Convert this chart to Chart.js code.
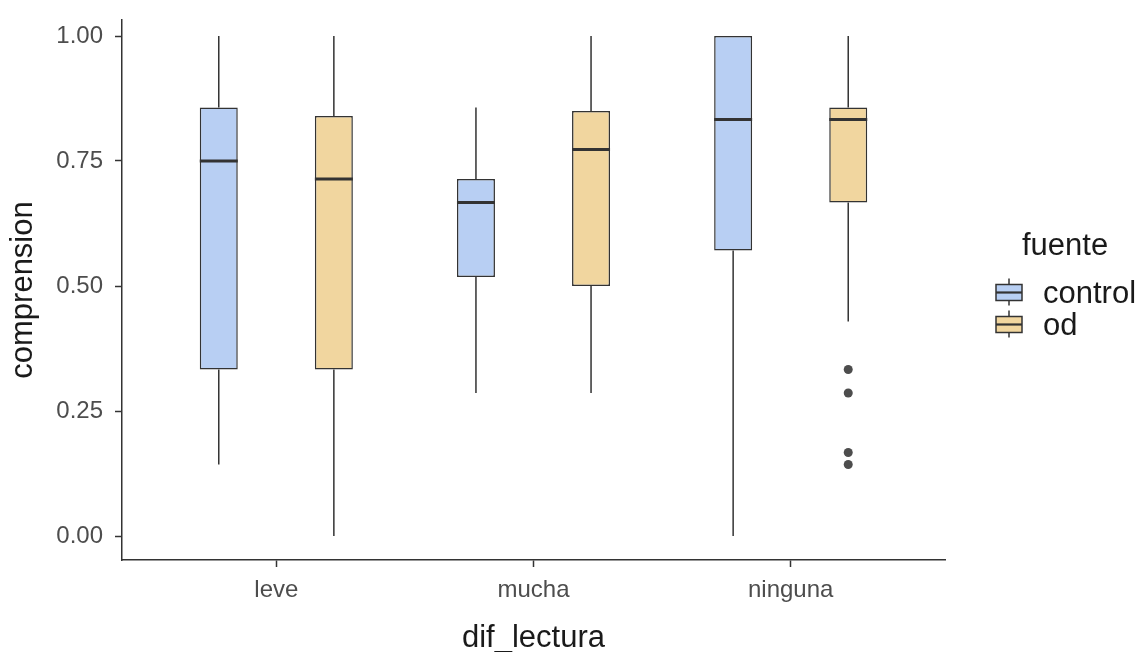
<!DOCTYPE html>
<html>
<head>
<meta charset="utf-8">
<script src="https://cdn.jsdelivr.net/npm/chart.js@4"></script>
<style>
  html, body { margin: 0; padding: 0; background: #fff; }
  #wrap { width: 1141px; height: 652px; position: relative; }
</style>
</head>
<body>
<div id="wrap"><canvas id="boxChart"></canvas></div>
<script>
// categories and box stats
const categories = ['leve', 'mucha', 'ninguna'];
const groups = ['control', 'od'];

const controlMin = [0.143, 0.286, 0.0];
const controlQ1 = [0.333, 0.518, 0.571];
const controlMed = [0.75, 0.667, 0.833];
const controlQ3 = [0.857, 0.714, 1.0];
const controlMax = [1.0, 0.857, 1.0];
const controlOut = [[], [], []];

const odMin = [0.0, 0.286, 0.429];
const odQ1 = [0.333, 0.5, 0.667];
const odMed = [0.714, 0.773, 0.833];
const odQ3 = [0.84, 0.85, 0.857];
const odMax = [1.0, 1.0, 1.0];
const odOut = [[], [], [0.333, 0.286, 0.167, 0.143]];

const yTicks = [0, 0.25, 0.5, 0.75, 1.0];

const stats = {
  control: { min: controlMin, q1: controlQ1, med: controlMed, q3: controlQ3, max: controlMax, out: controlOut },
  od: { min: odMin, q1: odQ1, med: odMed, q3: odQ3, max: odMax, out: odOut }
};
const fills = { control: '#b8cff3', od: '#f1d69f' };
const lineCol = '#333333';
const fontFam = '"Liberation Sans", Arial, Helvetica, sans-serif';

// whiskers, medians and outliers, placed from the bar elements + y scale
const boxExtras = {
  id: 'boxExtras',
  beforeDatasetsDraw(chart) {
    const ctx = chart.ctx;
    const y = chart.scales.y;
    ctx.save();
    ctx.strokeStyle = lineCol;
    ctx.lineWidth = 1.5;
    chart.data.datasets.forEach((ds, i) => {
      const s = stats[ds.label];
      chart.getDatasetMeta(i).data.forEach((el, j) => {
        ctx.beginPath();
        ctx.moveTo(el.x, y.getPixelForValue(s.q3[j]));
        ctx.lineTo(el.x, y.getPixelForValue(s.max[j]));
        ctx.moveTo(el.x, y.getPixelForValue(s.q1[j]));
        ctx.lineTo(el.x, y.getPixelForValue(s.min[j]));
        ctx.stroke();
      });
    });
    ctx.restore();
  },
  afterDatasetsDraw(chart) {
    const ctx = chart.ctx;
    const y = chart.scales.y;
    ctx.save();
    chart.data.datasets.forEach((ds, i) => {
      const s = stats[ds.label];
      chart.getDatasetMeta(i).data.forEach((el, j) => {
        const half = el.width / 2;
        const my = y.getPixelForValue(s.med[j]);
        ctx.strokeStyle = lineCol;
        ctx.lineWidth = 3;
        ctx.beginPath();
        ctx.moveTo(el.x - half, my);
        ctx.lineTo(el.x + half, my);
        ctx.stroke();
        ctx.fillStyle = '#4d4d4d';
        s.out[j].forEach(v => {
          ctx.beginPath();
          ctx.arc(el.x, y.getPixelForValue(v), 4.5, 0, Math.PI * 2);
          ctx.fill();
        });
      });
    });
    ctx.restore();
  },
  afterDraw(chart) {
    // legend on the right, ggplot style keys
    const ctx = chart.ctx;
    const x0 = chart.chartArea.right + 50;
    ctx.save();
    ctx.fillStyle = '#1a1a1a';
    ctx.font = '31px ' + fontFam;
    ctx.textBaseline = 'alphabetic';
    ctx.textAlign = 'left';
    ctx.fillText('fuente', x0 + 27, 255);
    groups.forEach((g, k) => {
      const cy = 292.5 + k * 32;
      ctx.strokeStyle = lineCol;
      ctx.lineWidth = 1.5;
      ctx.beginPath();
      ctx.moveTo(x0 + 14, cy - 14);
      ctx.lineTo(x0 + 14, cy + 13);
      ctx.stroke();
      ctx.fillStyle = fills[g];
      ctx.fillRect(x0 + 1, cy - 8, 26, 16);
      ctx.strokeRect(x0 + 1, cy - 8, 26, 16);
      ctx.lineWidth = 2.2;
      ctx.beginPath();
      ctx.moveTo(x0 + 1, cy);
      ctx.lineTo(x0 + 27, cy);
      ctx.stroke();
      ctx.fillStyle = '#1a1a1a';
      ctx.fillText(g, x0 + 48, 303 + k * 32);
    });
    ctx.restore();
  }
};

const datasets = groups.map(g => ({
  label: g,
  data: categories.map((c, j) => ({ x: j + 1, y: [stats[g].q1[j], stats[g].q3[j]] })),
  backgroundColor: fills[g],
  borderColor: lineCol,
  borderWidth: 1.5,
  borderSkipped: false,
  categoryPercentage: 0.895,
  barPercentage: 0.33
}));

new Chart(document.getElementById('boxChart'), {
  type: 'bar',
  data: { datasets: datasets },
  options: {
    responsive: true,
    maintainAspectRatio: false,
    animation: false,
    layout: { padding: { top: 20, right: 196, left: 0, bottom: 0 } },
    plugins: { legend: { display: false }, tooltip: { enabled: false } },
    scales: {
      x: {
        type: 'linear',
        min: 0.4,
        max: 3.6,
        offset: false,
        afterBuildTicks: (scale) => { scale.ticks = categories.map((c, j) => ({ value: j + 1 })); },
        afterFit: (scale) => { scale.height = 92; scale.paddingLeft = 0; scale.paddingRight = 0; },
        ticks: {
          callback: (v) => categories[Math.round(v) - 1] || '',
          color: '#4d4d4d',
          font: { family: fontFam, size: 24 },
          padding: 9,
          maxRotation: 0
        },
        grid: { drawOnChartArea: false, offset: false, tickLength: 7, tickColor: lineCol, tickWidth: 1.5 },
        border: { color: lineCol, width: 1.5 },
        title: { display: true, text: 'dif_lectura', color: '#1a1a1a', font: { family: fontFam, size: 31, lineHeight: 1 }, padding: { top: 0, bottom: -2 } }
      },
      y: {
        min: -0.048,
        max: 1.032,
        afterBuildTicks: (scale) => { scale.ticks = yTicks.map(v => ({ value: v })); },
        afterFit: (scale) => { scale.width = 122; scale.paddingTop = 0; scale.paddingBottom = 0; },
        ticks: {
          callback: (v) => v.toFixed(2),
          color: '#4d4d4d',
          font: { family: fontFam, size: 24 },
          padding: 12
        },
        grid: { drawOnChartArea: false, tickLength: 7, tickColor: lineCol, tickWidth: 1.5 },
        border: { color: lineCol, width: 1.5 },
        title: { display: true, text: 'comprension', color: '#1a1a1a', font: { family: fontFam, size: 31, lineHeight: 1 }, padding: { top: 8, bottom: 0 } }
      }
    }
  },
  plugins: [boxExtras]
});
</script>
</body>
</html>
